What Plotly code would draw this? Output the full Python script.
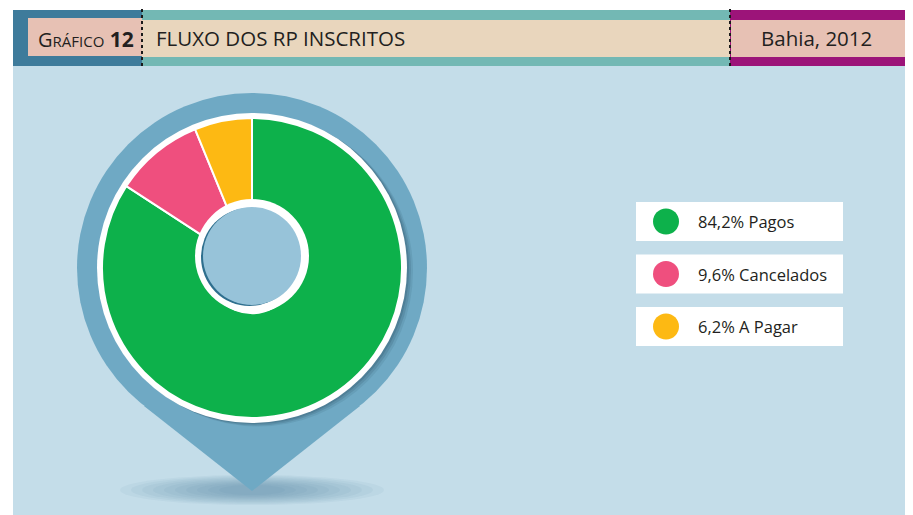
import plotly.graph_objects as go

# ---- data ----
categories = ["Pagos", "Cancelados", "A Pagar"]
values = [84.2, 9.6, 6.2]
value_labels = ["84,2%", "9,6%", "6,2%"]
colors = ["#0db14b", "#ef4f7e", "#fdb913"]

title_text = "FLUXO DOS RP INSCRITOS"
region_text = "Bahia, 2012"
chart_number = "12"

# page is offset by the 8px default body margin -> work in page pixels
OFF = 8
PW, PH = 913, 515
W, H = PW - OFF, PH - OFF
PANEL = "#c4dde9"
PIN = "#6fa9c4"
TXT = "#231f20"
FONT = "Open Sans"

fig = go.Figure()

# donut geometry (page pixel space)
cx, cy, R = 252, 268, 150

fig.add_trace(go.Pie(
    labels=categories, values=values, sort=False, direction="clockwise",
    rotation=0, hole=0.3, textinfo="none", hoverinfo="label+percent",
    marker=dict(colors=colors, line=dict(color="white", width=2)),
    domain=dict(x=[(cx - R - OFF) / W, (cx + R - OFF) / W],
                y=[(PH - cy - R) / H, (PH - cy + R) / H]),
    showlegend=False,
))

# legend built from data
leg_y0, leg_dy = 221.5, 52.5
leg_y = [leg_y0 + i * leg_dy for i in range(len(categories))]
fig.add_trace(go.Scatter(
    x=[666] * len(categories), y=leg_y, mode="markers",
    marker=dict(size=26, color=colors), showlegend=False, hoverinfo="skip",
))

shapes = []
# background panel
shapes.append(dict(type="rect", x0=13, x1=913, y0=66, y1=515, fillcolor=PANEL, line_width=0, layer="below"))
# header bands
shapes.append(dict(type="rect", x0=13, x1=142, y0=10, y1=66, fillcolor="#3e7b9b", line_width=0, layer="below"))
shapes.append(dict(type="rect", x0=142, x1=730, y0=10, y1=66, fillcolor="#73b8b4", line_width=0, layer="below"))
shapes.append(dict(type="rect", x0=730, x1=913, y0=10, y1=66, fillcolor="#9c1479", line_width=0, layer="below"))
shapes.append(dict(type="rect", x0=28, x1=142, y0=18, y1=56, fillcolor="#e7c1b4", line_width=0, layer="below"))
shapes.append(dict(type="rect", x0=142, x1=730, y0=20, y1=57, fillcolor="#e9d6bd", line_width=0, layer="below"))
shapes.append(dict(type="rect", x0=731, x1=911, y0=20, y1=57, fillcolor="#e7c1b4", line_width=0, layer="below"))
for xd in (142, 730):
    shapes.append(dict(type="line", x0=xd, x1=xd, y0=9, y1=67, line=dict(color="#1a1a1a", width=2, dash="3px,3px"), layer="below"))

# pin shadow on ground (soft)
for i in range(10):
    rx = 132 - i * 11
    ry = 15 - i * 1.1
    shapes.append(dict(type="circle", x0=252 - rx, x1=252 + rx, y0=490 - ry, y1=490 + ry,
                       fillcolor="rgba(70,120,150,0.06)", line_width=0, layer="below"))
# pin body
pr = 175
shapes.append(dict(type="circle", x0=cx - pr, x1=cx + pr, y0=cy - pr, y1=cy + pr, fillcolor=PIN, line_width=0, layer="below"))
shapes.append(dict(type="path", path="M 144 406 L 252 491 L 360 406 Z", fillcolor=PIN, line_width=0, layer="below"))
# donut shadow + white ring
for d, op in [(6, 0.12), (4, 0.18), (2, 0.25)]:
    shapes.append(dict(type="circle", x0=cx - 155 + d, x1=cx + 155 + d, y0=cy - 155 + d * 0.6, y1=cy + 155 + d * 0.6,
                       fillcolor=f"rgba(45,80,100,{op})", line_width=0, layer="below"))
shapes.append(dict(type="circle", x0=cx - 155, x1=cx + 155, y0=cy - 155, y1=cy + 155, fillcolor="white", line_width=0, layer="below"))

# hole (slightly raised, drawn above the donut)
hx, hy = 252, 256
shapes.append(dict(type="circle", x0=hx - 57, x1=hx + 57, y0=hy - 57, y1=hy + 57, fillcolor="white", line_width=0, layer="above"))
shapes.append(dict(type="circle", x0=hx - 51, x1=hx + 46, y0=hy - 48, y1=hy + 50, fillcolor="#2f6f8e", line_width=0, layer="above"))
shapes.append(dict(type="circle", x0=hx - 49, x1=hx + 49, y0=hy - 49, y1=hy + 49, fillcolor="#97c3d9", line_width=0, layer="above"))

# legend boxes
for yy in leg_y:
    shapes.append(dict(type="rect", x0=636, x1=843, y0=yy - 19.5, y1=yy + 19.5, fillcolor="white", line_width=0, layer="below"))

annotations = []
annotations.append(dict(x=36, y=39, xref="x", yref="y", xanchor="left", yanchor="middle", showarrow=False,
                        text="<span style='font-size:20px'>G</span><span style='font-size:15px'>RÁFICO</span> <b>" + chart_number + "</b>",
                        font=dict(family=FONT, size=21, color=TXT)))
annotations.append(dict(x=154, y=38, xref="x", yref="y", xanchor="left", yanchor="middle", showarrow=False,
                        text=title_text, font=dict(family=FONT, size=20.5, color=TXT)))
annotations.append(dict(x=816, y=38, xref="x", yref="y", xanchor="center", yanchor="middle", showarrow=False,
                        text=region_text, font=dict(family=FONT, size=20.5, color=TXT)))
for lab, cat, yy in zip(value_labels, categories, leg_y):
    annotations.append(dict(x=696, y=yy, xref="x", yref="y", xanchor="left", yanchor="middle", showarrow=False,
                            text=f"{lab} {cat}", font=dict(family=FONT, size=16.5, color=TXT)))

fig.update_layout(
    width=W, height=H, margin=dict(l=0, r=0, t=0, b=0),
    paper_bgcolor="white", plot_bgcolor="white",
    xaxis=dict(range=[OFF, PW], visible=False, fixedrange=True),
    yaxis=dict(range=[PH, OFF], visible=False, fixedrange=True),
    shapes=shapes, annotations=annotations, showlegend=False,
)

fig.write_html("out.html")
